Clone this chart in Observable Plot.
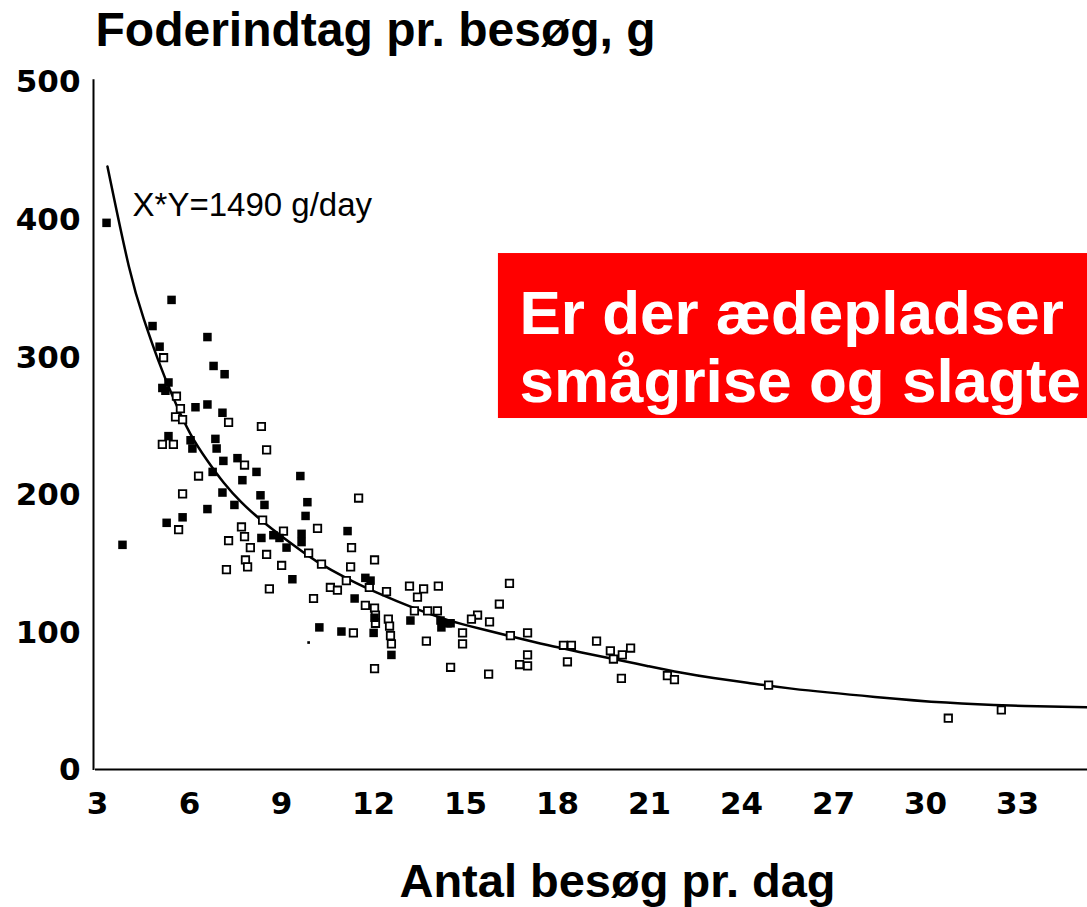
<!DOCTYPE html>
<html><head><meta charset="utf-8">
<script src="https://cdn.jsdelivr.net/npm/d3@7"></script>
<script src="https://cdn.jsdelivr.net/npm/@observablehq/plot@0.6"></script>
<style>html,body{margin:0;padding:0;background:#fff;overflow:hidden}</style>
</head><body><div id="chart"></div>
<script>
const xTicks = [3, 6, 9, 12, 15, 18, 21, 24, 27, 30, 33];
const yTicks = [0, 100, 200, 300, 400, 500];

const filledX = [3.36,5.48,4.86,6.65,5.09,6.85,7.21,5.18,5.38,5.28,6.26,6.65,7.14,5.38,6.10,6.16,6.91,6.95,7.17,7.63,8.25,6.82,7.79,9.68,7.14,8.38,8.51,7.53,6.65,9.91,9.85,5.84,5.32,8.41,8.80,9.00,9.23,9.72,9.72,3.88,9.42,11.22,11.45,11.80,11.97,12.10,12.65,13.27,14.25,14.48,14.58,14.28,10.30,11.02,12.07];
const filledY = [398,342,323,315,308,294,288,278,282,276,264,266,260,243,240,234,241,234,225,227,217,217,211,214,202,200,193,193,190,195,185,184,180,169,171,169,162,172,166,164,139,174,125,140,138,111,84,109,109,107,107,104,104,101,100];

const openX = [5.22,5.64,5.77,5.61,5.84,7.34,8.41,5.18,5.54,8.58,7.86,6.36,5.84,8.45,5.71,7.76,7.86,9.13,9.95,7.34,8.05,8.58,7.89,7.96,9.07,7.27,8.67,11.58,10.24,11.35,10.37,12.10,11.32,11.18,11.93,10.66,10.89,13.24,13.70,14.18,13.50,12.49,16.50,16.17,11.80,10.11,12.10,12.13,12.13,12.55,12.59,12.62,12.65,13.40,13.83,14.15,14.97,14.97,15.46,15.26,15.85,16.53,17.09,17.09,17.09,16.83,11.41,13.79,12.10,14.58,15.82,18.26,18.52,18.39,19.34,19.79,19.89,20.18,20.45,20.15,21.65,21.88,24.95,30.81,32.54];
const openY = [300,272,263,257,255,253,250,237,237,233,222,214,201,182,175,177,170,174,158,167,162,157,153,148,149,146,132,198,176,162,150,153,148,138,133,133,131,134,132,134,126,130,136,121,120,125,118,113,107,110,105,98,92,116,116,116,100,92,113,110,108,98,100,84,76,77,100,94,74,75,70,91,91,79,94,87,81,84,89,67,69,66,62,38,44];

const tinyX = [9.95];
const tinyY = [93];

const curveX = [3.39,4.14,4.57,5.02,5.54,6.10,6.65,7.17,7.73,8.48,9.68,10.11,11.22,12.29,13.37,14.48,15.55,16.63,17.74,18.81,19.89,20.99,22.08,23.15,24.26,25.34,28.60,30.78,32.74,35.35];
const curveY = [439,358,328,299,270,243,225,209,195,180,160,153,139,128,118,109,103,97,91,86,81,76,71,67,64,60,53,49,47,46];

const yTitle = "Foderindtag pr. besøg, g";
const xTitle = "Antal besøg pr. dag";
const curveLabel = "X*Y=1490 g/day";
const boxLines = ["Er der ædepladser", "smågrise og slagte"];

const filled = filledX.map((x, i) => ({x, y: filledY[i]}));
const open = openX.map((x, i) => ({x, y: openY[i]}));
const tiny = tinyX.map((x, i) => ({x, y: tinyY[i]}));
const curve = curveX.map((x, i) => ({x, y: curveY[i]}));

const XMIN = 3, XMAX = 35.35;
const bold = "'Liberation Sans', Arial, sans-serif";
const tickFont = "'DejaVu Sans', sans-serif";

const chart = Plot.plot({
  width: 1087, height: 907,
  marginLeft: 95, marginRight: 0, marginTop: 82, marginBottom: 137,
  x: {domain: [XMIN, XMAX], axis: null},
  y: {domain: [0, 500], axis: null},
  style: {background: "white", fontFamily: bold, color: "black"},
  marks: [
    Plot.ruleX([XMIN], {y1: 0, y2: 502, stroke: "black", strokeWidth: 2, dx: -2}),
    Plot.ruleY([0], {x1: XMIN, x2: XMAX, stroke: "black", strokeWidth: 2, dy: -1}),
    Plot.text(yTicks, {x: XMIN, y: d => d, text: d => String(d), textAnchor: "end", dx: -15,
      fontSize: 31, fontWeight: "bold", fontFamily: tickFont, fill: "black"}),
    Plot.text(xTicks, {x: d => d, y: 0, text: d => String(d), dy: 34, dx: 2,
      fontSize: 31, fontWeight: "bold", fontFamily: tickFont, fill: "black"}),
    Plot.line(curve, {x: "x", y: "y", curve: "basis", stroke: "black", strokeWidth: 2.5}),
    Plot.dot(open, {x: "x", y: "y", symbol: "square", r: 4.2, fill: "white", stroke: "black", strokeWidth: 1.8}),
    Plot.dot(filled, {x: "x", y: "y", symbol: "square", r: 4.8, fill: "black", stroke: "none"}),
    Plot.dot(tiny, {x: "x", y: "y", symbol: "square", r: 1.5, fill: "black", stroke: "none"}),
    Plot.text([curveLabel], {x: 4.21, y: 410.6, textAnchor: "start", lineAnchor: "middle",
      fontSize: 33, fill: "black", fontFamily: "'Liberation Sans', Arial, sans-serif"}),
    Plot.rect([0], {x1: 16.14, x2: 36, y1: 255.8, y2: 375.7, fill: "#ff0000"}),
    Plot.text([boxLines.join("\n")], {x: 16.14, y: 375.7, dx: 21, dy: 32, textAnchor: "start", lineAnchor: "top",
      lineHeight: 1.1, fontSize: 62, fontWeight: "bold", fill: "white", fontFamily: bold}),
    Plot.text([yTitle], {frameAnchor: "top-left", textAnchor: "start", lineAnchor: "middle", dy: -52,
      fontSize: 48, fontWeight: "bold", fill: "black", fontFamily: bold}),
    Plot.text([xTitle], {frameAnchor: "bottom", textAnchor: "middle", lineAnchor: "middle", dx: 26, dy: 111,
      fontSize: 47, fontWeight: "bold", fill: "black", fontFamily: bold})
  ]
});
document.getElementById("chart").appendChild(chart);
</script></body></html>
